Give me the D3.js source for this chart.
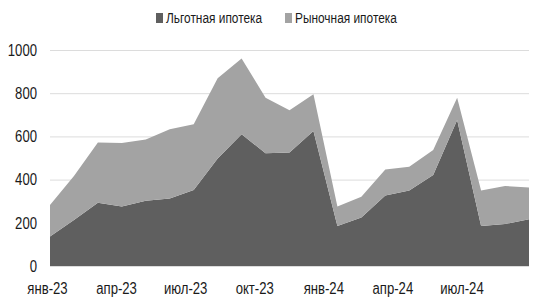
<!DOCTYPE html>
<meta charset="utf-8">
<style>
  body { margin: 0; background: #fff; }
  svg { display: block; }
  text { font-family: "Liberation Sans", Arial, sans-serif; fill: #1a1a1a; }
  .grid line { stroke: #dcdcdc; stroke-width: 1; }
  .pref { fill: #5f5f5f; }
  .market { fill: #a3a3a3; }
</style>
<body></body>
<script src="https://d3js.org/d3.v7.min.js"></script>
<script>

var months = ["янв-23","фев-23","мар-23","апр-23","май-23","июн-23","июл-23","авг-23","сен-23","окт-23","ноя-23","дек-23",
              "янв-24","фев-24","мар-24","апр-24","май-24","июн-24","июл-24","авг-24","сен-24"];
var preferential = [136, 213, 293, 275, 302, 313, 352, 498, 610, 522, 526, 625, 185, 224, 326, 349, 421, 676, 185, 194, 216];
var market =       [146, 204, 279, 294, 284, 320, 304, 371, 351, 257, 195, 170,  90,  97, 121, 111, 116, 103, 164, 176, 148];
var tickLabels = ["янв-23","апр-23","июл-23","окт-23","янв-24","апр-24","июл-24"];
var yTicks = [0, 200, 400, 600, 800, 1000];
var seriesNames = ["Льготная ипотека", "Рыночная ипотека"];

var width = 545, height = 298;
var squeeze = 0.82;   // the original font is condensed

var svg = d3.select("body").append("svg")
    .attr("width", width)
    .attr("height", height);

var xScale = d3.scalePoint().domain(months).range([50, 529]);
var xLabel = d3.scalePoint().domain(months).range([47.5, 508]);
var yScale = d3.scaleLinear().domain([0, 1000]).range([266, 50]);

function place(x, y) {
  return "translate(" + x + "," + y + ") scale(" + squeeze + ",1)";
}

// gridlines
svg.append("g").attr("class", "grid")
  .selectAll("line").data(yTicks).enter().append("line")
    .attr("x1", 50).attr("x2", 529)
    .attr("y1", function (d) { return yScale(d) + 0.5; })
    .attr("y2", function (d) { return yScale(d) + 0.5; });

var table = months.map(function (m, i) {
  return { month: m, pref: preferential[i], market: market[i] };
});
var stack = d3.stack().keys(["pref", "market"])(table);

var area = d3.area()
    .x(function (d) { return xScale(d.data.month); })
    .y0(function (d) { return yScale(d[0]); })
    .y1(function (d) { return yScale(d[1]); });

svg.selectAll(".layer").data(stack).enter().append("path")
    .attr("class", function (d) { return d.key; })
    .attr("d", area);

// y labels
svg.append("g").selectAll("text").data(yTicks).enter().append("text")
    .attr("transform", function (d) { return place(37, yScale(d)); })
    .attr("dy", "0.36em")
    .attr("text-anchor", "end")
    .style("font-size", "16px")
    .text(function (d) { return d; });

// x labels
svg.append("g").selectAll("text").data(tickLabels).enter().append("text")
    .attr("transform", function (d) { return place(xLabel(d), 294); })
    .attr("text-anchor", "middle")
    .style("font-size", "16px")
    .text(function (d) { return d; });

// legend
var legendX = [156, 285];
var legend = svg.append("g").selectAll("g").data(seriesNames).enter().append("g")
    .attr("transform", function (d, i) { return "translate(" + legendX[i] + ",0)"; });
legend.append("rect")
    .attr("x", 0).attr("y", 13).attr("width", 7).attr("height", 10)
    .attr("class", function (d, i) { return i === 0 ? "pref" : "market"; });
legend.append("text")
    .attr("transform", place(10, 23))
    .style("font-size", "14.5px")
    .text(function (d) { return d; });

</script>
